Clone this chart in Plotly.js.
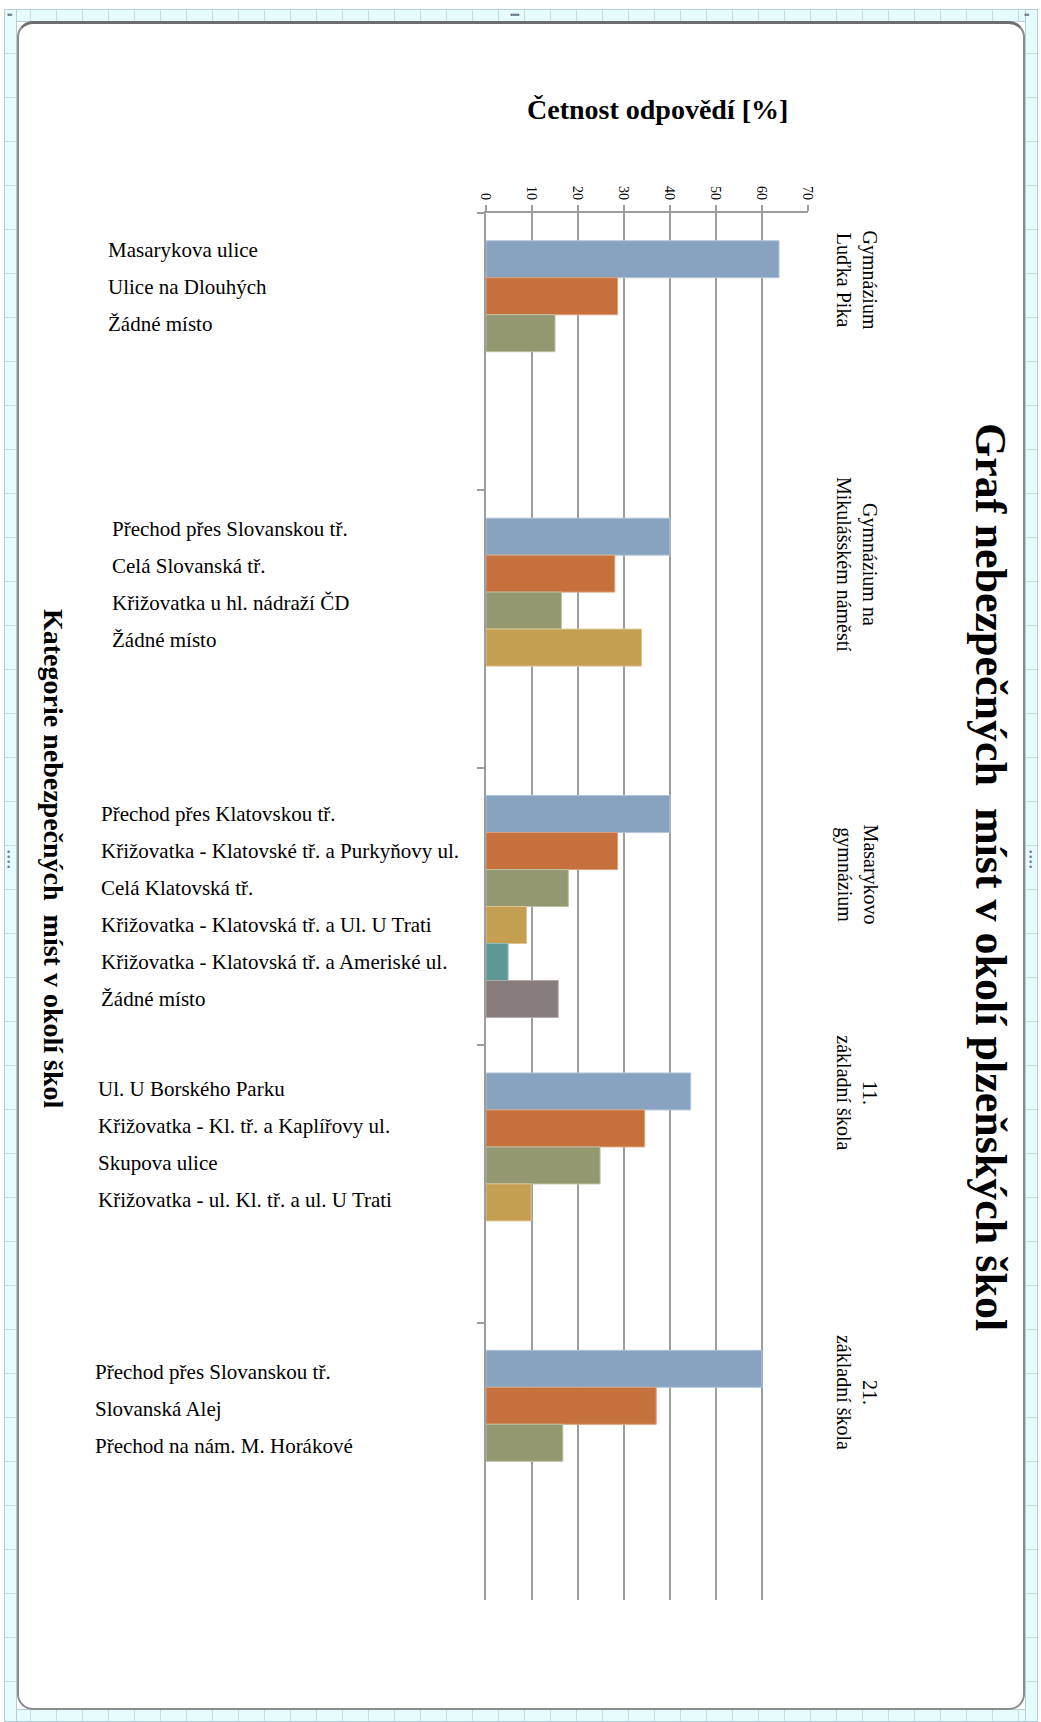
<!DOCTYPE html>
<html>
<head>
<meta charset="utf-8">
<script src="https://cdn.plot.ly/plotly-3.0.1.min.js"></script>
<style>
  html, body { margin: 0; padding: 0; background: #ffffff; }
  #wrap { position: relative; width: 1041px; height: 1722px; overflow: hidden; }
  .ruler { position: absolute; background-color: #e6fbfb; border: 1px solid #b4cfd6; box-sizing: border-box; }
  .rh { background-image: repeating-linear-gradient(to right, transparent 0 25px, #c4dce2 25px 26px); }
  .rv { background-image: repeating-linear-gradient(to bottom, transparent 0 43px, #c4dce2 43px 44px); }
  .dots { position: absolute; color: #6a7a88; font: 9px/9px sans-serif; letter-spacing: -1px; }
  #card { position: absolute; left: 17px; top: 21px; width: 1008px; height: 1689px; box-sizing: border-box;
          border: 2px solid #8c8c8c; border-top: 3px solid #6e6e6e; border-radius: 16px; background: #ffffff; }
  #chart { position: absolute; left: 0; top: 0; width: 1041px; height: 1722px; }
</style>
</head>
<body>
<div id="wrap">
  <div class="ruler rh" style="left:4px; top:9px; width:1033px; height:13px;"></div>
  <div class="ruler rh" style="left:4px; top:1709px; width:1033px; height:13px;"></div>
  <div class="ruler rv" style="left:4px; top:9px; width:13px; height:1713px;"></div>
  <div class="ruler rv" style="left:1025px; top:9px; width:13px; height:1713px;"></div>
  <div class="dots" style="left:510px; top:11px;">••••</div>
  <div class="dots" style="left:7px; top:11px;">••</div>
  <div class="dots" style="left:1024px; top:11px;">••</div>
  <div class="dots" style="left:7px; top:850px; width:6px; line-height:5px;">•<br>•<br>•<br>•</div>
  <div class="dots" style="left:1029px; top:850px; width:6px; line-height:5px;">•<br>•<br>•<br>•</div>
  <div id="card"></div>
  <div id="chart"></div>
</div>
<script>
// ---------------- data ----------------
const schools = ["Gymnázium Luďka Pika", "Gymnázium na Mikulášském náměstí", "Masarykovo gymnázium", "11. základní škola", "21. základní škola"];
const schoolLabels = ["Gymnázium<br>Luďka Pika", "Gymnázium na<br>Mikulášském náměstí", "Masarykovo<br>gymnázium", "11.<br>základní škola", "21.<br>základní škola"];

const values1 = [63.7, 40.0, 40.0, 44.5, 60.0];
const values2 = [28.6, 28.0, 28.6, 34.5, 37.0];
const values3 = [15.0, 16.4, 17.9, 24.8, 16.7];
const values4 = [null, 33.8, 8.8, 9.8, null];
const values5 = [null, null, 4.8, null, null];
const values6 = [null, null, 15.7, null, null];

const labels1 = ["Masarykova ulice", "Přechod přes Slovanskou tř.", "Přechod přes Klatovskou tř.", "Ul. U Borského Parku", "Přechod přes Slovanskou tř."];
const labels2 = ["Ulice na Dlouhých", "Celá Slovanská tř.", "Křižovatka - Klatovské tř. a Purkyňovy ul.", "Křižovatka - Kl. tř. a Kaplířovy ul.", "Slovanská Alej"];
const labels3 = ["Žádné místo", "Křižovatka u hl. nádraží ČD", "Celá Klatovská tř.", "Skupova ulice", "Přechod na nám. M. Horákové"];
const labels4 = [null, "Žádné místo", "Křižovatka - Klatovská tř. a Ul. U Trati", "Křižovatka - ul. Kl. tř. a ul. U Trati", null];
const labels5 = [null, null, "Křižovatka - Klatovská tř. a Ameriské ul.", null, null];
const labels6 = [null, null, "Žádné místo", null, null];

const tickVals = [0, 10, 20, 30, 40, 50, 60, 70];

const mainTitle = "Graf nebezpečných  míst v okolí plzeňských škol";
const valueTitle = "Četnost odpovědí [%]";
const categoryTitle = "Kategorie nebezpečných  míst v okolí škol";

// ---------------- style ----------------
const W = 1041, H = 1722;
const M = { l: 486, r: 233, t: 213, b: 122 };
const plotW = W - M.l - M.r, plotH = H - M.t - M.b;
const BARGAP = 0.2;
const colors = ["#87a3bf", "#c6713d", "#939871", "#c49e51", "#5e9894", "#877d7d"];
const lineColors = ["#b3c6d8", "#dda07c", "#bcc0a2", "#dcc58f", "#93bdb9", "#b3abab"];
const labelLeftPx = [106, 110, 99, 96, 93];
const labelShiftPx = [9, 8, 0, 2, -3];
const schoolShift = [-0.26, -0.235, -0.115, -0.33, -0.25];
const serif = "Liberation Serif, Times New Roman, serif";
const gridC = "#9d9d9d";

const px2x = px => (px - M.l) / plotW;
const py2y = py => 1 - (py - M.t) / plotH;

const allValues = [values1, values2, values3, values4, values5, values6];
const allLabels = [labels1, labels2, labels3, labels4, labels5, labels6];
const nSlots = allValues.length;

const traces = allValues.map((vals, i) => ({
  type: "bar",
  orientation: "h",
  y: schools,
  x: vals,
  marker: { color: colors[i], line: { color: lineColors[i], width: 1 } },
  hoverinfo: "skip",
  showlegend: false
}));

const annotations = [];
// bar labels, placed at each bar's slot on the category axis
allLabels.forEach((labs, i) => {
  labs.forEach((t, j) => {
    if (t === null) return;
    annotations.push({
      text: t, xref: "paper", yref: "y",
      x: px2x(labelLeftPx[j]), xanchor: "left",
      y: j + (i - (nSlots - 1) / 2) * (1 - BARGAP) / nSlots, yanchor: "middle",
      yshift: labelShiftPx[j],
      showarrow: false, font: { family: serif, size: 21, color: "#000" }
    });
  });
});
// school names (rotated), right of plot
schoolLabels.forEach((t, j) => {
  annotations.push({
    text: t, xref: "paper", yref: "y",
    x: px2x(857), xanchor: "center",
    y: j + schoolShift[j], yanchor: "middle",
    textangle: 90, showarrow: false,
    font: { family: serif, size: 20, color: "#000" }
  });
});
annotations.push({
  text: "<b>" + mainTitle + "</b>", xref: "paper", yref: "paper",
  x: px2x(991), y: py2y(877), xanchor: "center", yanchor: "middle",
  textangle: 90, showarrow: false, font: { family: serif, size: 44, color: "#000" }
});
annotations.push({
  text: "<b>" + categoryTitle + "</b>", xref: "paper", yref: "paper",
  x: px2x(54), y: py2y(859), xanchor: "center", yanchor: "middle",
  textangle: 90, showarrow: false, font: { family: serif, size: 28, color: "#000" }
});
annotations.push({
  text: "<b>" + valueTitle + "</b>", xref: "paper", yref: "paper",
  x: px2x(657), y: py2y(110), xanchor: "center", yanchor: "middle",
  showarrow: false, font: { family: serif, size: 28, color: "#000" }
});

const layout = {
  width: W, height: H,
  margin: M,
  paper_bgcolor: "rgba(0,0,0,0)",
  plot_bgcolor: "rgba(0,0,0,0)",
  barmode: "group",
  bargap: BARGAP,
  bargroupgap: 0,
  xaxis: {
    range: [0, 70], tickvals: tickVals, side: "top",
    showgrid: true, gridcolor: gridC, gridwidth: 2,
    showline: true, linecolor: gridC, linewidth: 2,
    ticks: "outside", ticklen: 6, tickwidth: 2, tickcolor: gridC,
    tickangle: 90, tickfont: { family: serif, size: 14, color: "#000" },
    zeroline: false, fixedrange: true
  },
  yaxis: {
    type: "category", categoryorder: "array", categoryarray: schools,
    autorange: "reversed",
    showline: true, linecolor: gridC, linewidth: 2,
    ticks: "outside", tickson: "boundaries", ticklen: 7, tickwidth: 2, tickcolor: gridC,
    showticklabels: false, showgrid: false, zeroline: false, fixedrange: true
  },
  annotations: annotations
};

Plotly.newPlot("chart", traces, layout, { displayModeBar: false, staticPlot: true });
</script>
</body>
</html>
